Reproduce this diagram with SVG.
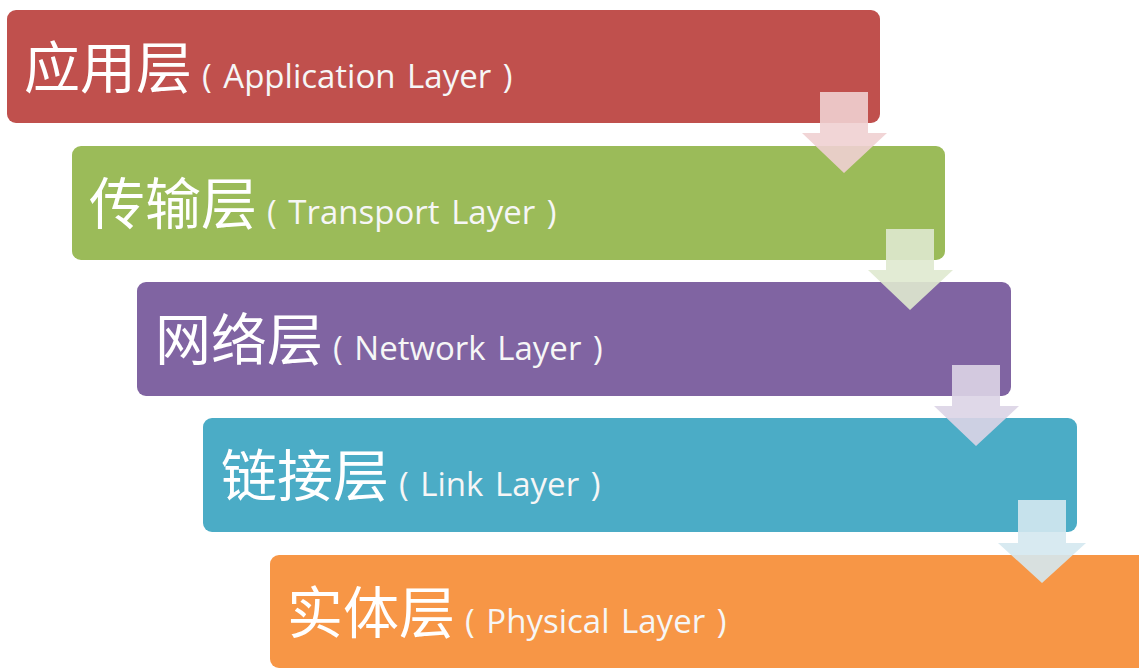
<svg xmlns="http://www.w3.org/2000/svg" width="1139" height="669" viewBox="0 0 1139 669">
<style>
.zh{font-family:"Noto Sans CJK SC","Microsoft YaHei",sans-serif;font-size:56px;fill:#ffffff}
.en{font-family:"Open Sans","Noto Sans",sans-serif;font-size:33px;fill:#f6f6f6;word-spacing:3px}
.arr{stroke:none;opacity:0.9}
</style>
<rect width="1139" height="669" fill="#ffffff"/>
<g id="layer-application">
<rect x="7" y="10" width="873" height="113" rx="9" fill="#c0504d"/>
<text x="24" y="88"><tspan class="zh">应用层</tspan><tspan class="en" dx="10">( Application Layer )</tspan></text>
</g>
<g id="layer-transport">
<rect x="72" y="146" width="873" height="114" rx="9" fill="#9bbb59"/>
<text x="89" y="224"><tspan class="zh">传输层</tspan><tspan class="en" dx="10">( Transport Layer )</tspan></text>
</g>
<g id="layer-network">
<rect x="137" y="282" width="874" height="114" rx="9" fill="#8064a2"/>
<text x="155" y="360"><tspan class="zh">网络层</tspan><tspan class="en" dx="10">( Network Layer )</tspan></text>
</g>
<g id="layer-link">
<rect x="203" y="418" width="874" height="114" rx="9" fill="#4bacc6"/>
<text x="221" y="496"><tspan class="zh">链接层</tspan><tspan class="en" dx="10">( Link Layer )</tspan></text>
</g>
<g id="layer-physical">
<rect x="270" y="555" width="880" height="113" rx="9" fill="#f79646"/>
<text x="287" y="633"><tspan class="zh">实体层</tspan><tspan class="en" dx="10">( Physical Layer )</tspan></text>
</g>
<g id="connectors">
<path class="arr" fill="#efd0d2" d="M820 92 H868 V133 H887 L844 173 L802 133 H820 Z"/>
<path class="arr" fill="#dfe9cf" d="M886 229 H934 V270 H953 L910 310 L868 270 H886 Z"/>
<path class="arr" fill="#dcd4e6" d="M952 365 H1000 V406 H1019 L976 446 L934 406 H952 Z"/>
<path class="arr" fill="#d4e8ef" d="M1018 500 H1066 V543 H1086 L1042 583 L998 543 H1018 Z"/>
</g>
</svg>
